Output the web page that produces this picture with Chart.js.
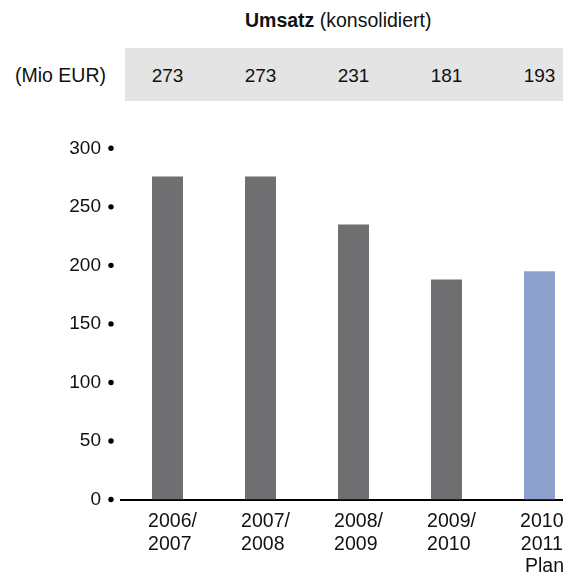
<!DOCTYPE html>
<html><head><meta charset="utf-8">
<script src="https://cdn.jsdelivr.net/npm/chart.js@4"></script>
<style>
html,body{margin:0;padding:0;background:#fff;overflow:hidden;width:563px;height:585px;}
#wrap{position:relative;width:563px;height:585px;overflow:hidden;font-family:"Liberation Sans",Arial,sans-serif;color:#111;}
#title{position:absolute;left:245px;top:10.6px;font-size:19.5px;line-height:19.5px;white-space:nowrap;}
#unit{position:absolute;left:15px;top:66.2px;font-size:19.5px;line-height:19.5px;white-space:nowrap;}
#band{position:absolute;left:125px;top:47.7px;right:0;height:53px;background:#e3e4e3;}
.bv{position:absolute;top:66.2px;font-size:19px;line-height:19px;transform:translateX(-50%);white-space:nowrap;}
canvas{position:absolute;left:0;top:0;}
</style></head><body>
<div id="wrap">
<div id="band"></div>
<div id="title"><b>Umsatz</b> (konsolidiert)</div>
<div id="unit">(Mio EUR)</div>
<div id="bandvals"></div>
<canvas id="c" width="600" height="585" style="width:600px;height:585px"></canvas>
</div>
<script>
// ---- data ----
const categories = [
  ["2006/", "2007\u00A0"],
  ["2007/", "2008\u00A0"],
  ["2008/", "2009\u00A0"],
  ["2009/", "2010\u00A0"],
  ["2010/", "2011\u00A0", "Plan"]
];
const barValues = [276, 276, 235, 188, 195];
const bandValues = ["273", "273", "231", "181", "193"];
const yMin = 0, yMax = 300, yStep = 50;

// ---- styles ----
const FONT = '"Liberation Sans", Arial, sans-serif';
const barColors = ['#6f6f71', '#6f6f71', '#6f6f71', '#6f6f71', '#8ea1cd'];

// small round bullets next to each y tick, placed through the y scale
const tickDots = {
  id: 'tickDots',
  afterDraw(c) {
    const y = c.scales.y, ctx = c.ctx;
    ctx.save();
    ctx.fillStyle = '#000';
    y.ticks.forEach(t => {
      ctx.beginPath();
      ctx.arc(c.chartArea.left - 10, y.getPixelForValue(t.value), 2.7, 0, Math.PI * 2);
      ctx.fill();
    });
    ctx.restore();
  }
};

const chart = new Chart(document.getElementById('c'), {
  type: 'bar',
  data: {
    labels: categories,
    datasets: [{
      data: barValues,
      backgroundColor: barColors,
      borderWidth: 0,
      categoryPercentage: 1,
      barPercentage: 0.333
    }]
  },
  plugins: [tickDots],
  options: {
    responsive: false,
    animation: false,
    layout: { padding: { top: 148.3, right: 14, left: 0, bottom: 0 } },
    plugins: { legend: { display: false }, tooltip: { enabled: false }, title: { display: false } },
    scales: {
      x: {
        grid: { display: false, drawTicks: false },
        border: { display: true, color: '#000', width: 2 },
        ticks: {
          color: '#111', autoSkip: false, maxRotation: 0, padding: 11, labelOffset: 5,
          font: { family: FONT, size: 19.5, lineHeight: 1.16 }
        },
        afterFit(s) { s.height = 85.5; }
      },
      y: {
        min: yMin, max: yMax,
        grid: { display: false, drawTicks: false },
        border: { display: false },
        ticks: {
          stepSize: yStep, padding: 20, color: '#111',
          font: { family: FONT, size: 19 }
        },
        afterFit(s) { s.width = 121; }
      }
    }
  }
});

// band values placed at the category centres of the chart's x scale
const holder = document.getElementById('bandvals');
const xs = chart.scales.x;
bandValues.forEach((t, i) => {
  const d = document.createElement('div');
  d.className = 'bv';
  d.textContent = t;
  d.style.left = xs.getPixelForValue(i) + 'px';
  holder.appendChild(d);
});
</script>
</body></html>
